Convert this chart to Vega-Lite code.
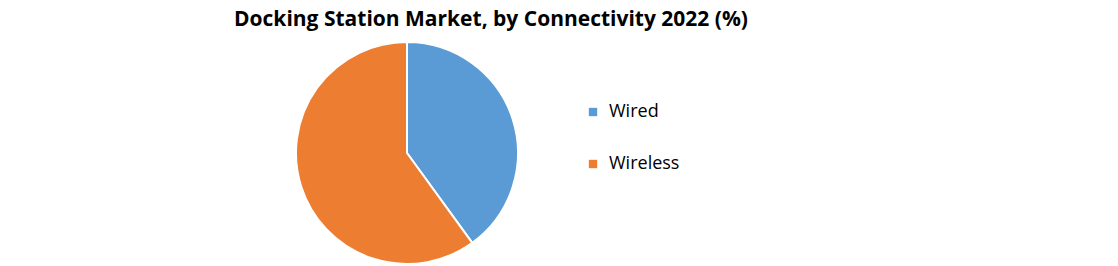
{
  "$schema": "https://vega.github.io/schema/vega-lite/v6.json",
  "width": 814,
  "height": 222,
  "autosize": {"type": "none"},
  "padding": {"top": 42, "left": 0, "right": 0, "bottom": 0},
  "background": "white",
  "title": {
    "text": "Docking Station Market, by Connectivity 2022 (%)",
    "font": "Open Sans",
    "fontSize": 21,
    "fontWeight": "bold",
    "color": "#000000",
    "anchor": "middle",
    "frame": "group",
    "dx": 84,
    "offset": 8
  },
  "data": {
    "values": [
      {"connectivity": "Wired", "share": 40},
      {"connectivity": "Wireless", "share": 60}
    ]
  },
  "mark": {"type": "arc", "outerRadius": 111, "stroke": "white", "strokeWidth": 2},
  "encoding": {
    "theta": {"field": "share", "type": "quantitative", "stack": true},
    "color": {
      "field": "connectivity",
      "type": "nominal",
      "scale": {"domain": ["Wired", "Wireless"], "range": ["#5B9BD5", "#ED7D31"]},
      "legend": {
        "title": null,
        "orient": "none",
        "legendX": 584,
        "legendY": 61,
        "symbolType": "square",
        "symbolSize": 70,
        "symbolStrokeWidth": 0,
        "labelFont": "Open Sans",
        "labelFontSize": 18,
        "labelColor": "#000000",
        "labelOffset": 7,
        "rowPadding": 34
      }
    },
    "order": {"field": "connectivity", "sort": "ascending"}
  },
  "config": {"view": {"stroke": null}}
}
